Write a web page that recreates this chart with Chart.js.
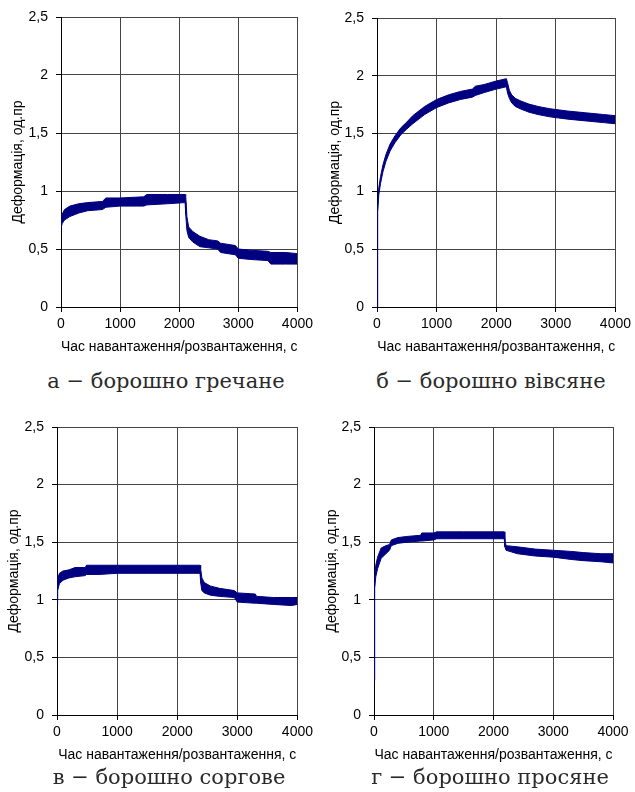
<!DOCTYPE html>
<html>
<head>
<meta charset="utf-8">
<script src="https://cdn.jsdelivr.net/npm/chart.js@4/dist/chart.umd.min.js"></script>
<style>
  body { margin: 0; background: #fff; }
  #page { position: relative; width: 635px; height: 792px; background: #fff; overflow: hidden; }
  canvas { position: absolute; }
  .caption { position: absolute; transform: translate(-50%, -50%); white-space: nowrap;
             font-family: "DejaVu Serif", "Liberation Serif", serif; font-size: 21px; color: #2a2a2a; }
</style>
</head>
<body>
<div id="page"></div>
<script>
// Шкали (спільні для всіх чотирьох графіків)
var xTicks = [0, 1000, 2000, 3000, 4000];
var yTicks = [0, 0.5, 1, 1.5, 2, 2.5];
var yTickLabels = ['0', '0,5', '1', '1,5', '2', '2,5'];
var xTitle = 'Час навантаження/розвантаження, с';
var yTitle = 'Деформація, од.пр';

// а - борошно гречане: межі смуги (верх/низ) по часу
var aTime  = [0, 20, 60, 150, 300, 450, 700, 760, 1000, 1400, 1450, 1800, 2100, 2110, 2130, 2160, 2230, 2350, 2500, 2650, 2700, 2950, 3000, 3200, 3500, 3550, 3800, 4000];
var aUpper = [0.74, 0.80, 0.84, 0.87, 0.89, 0.90, 0.91, 0.94, 0.94, 0.95, 0.97, 0.97, 0.97, 0.96, 0.78, 0.69, 0.65, 0.61, 0.58, 0.57, 0.55, 0.53, 0.50, 0.49, 0.48, 0.47, 0.47, 0.46];
var aLower = [0.68, 0.72, 0.75, 0.78, 0.81, 0.83, 0.84, 0.86, 0.87, 0.87, 0.88, 0.89, 0.90, 0.80, 0.66, 0.60, 0.56, 0.52, 0.51, 0.50, 0.47, 0.45, 0.42, 0.41, 0.40, 0.37, 0.37, 0.37];

// б - борошно вівсяне
var bTime  = [0, 5, 15, 30, 60, 100, 150, 220, 300, 400, 500, 600, 800, 1000, 1200, 1400, 1600, 1650, 1800, 2000, 2170, 2190, 2220, 2260, 2320, 2400, 2550, 2700, 2900, 3200, 3500, 3800, 4000];
var bUpper = [0, 0.57, 0.88, 1.03, 1.13, 1.23, 1.32, 1.41, 1.48, 1.55, 1.60, 1.655, 1.735, 1.795, 1.835, 1.865, 1.885, 1.91, 1.925, 1.955, 1.975, 1.94, 1.875, 1.835, 1.805, 1.785, 1.755, 1.735, 1.715, 1.695, 1.68, 1.665, 1.655];
var bLower = [0, 0.53, 0.82, 0.97, 1.07, 1.17, 1.26, 1.35, 1.42, 1.49, 1.54, 1.585, 1.665, 1.725, 1.765, 1.795, 1.815, 1.83, 1.855, 1.885, 1.905, 1.85, 1.805, 1.765, 1.735, 1.715, 1.685, 1.665, 1.645, 1.625, 1.61, 1.595, 1.585];

// в - борошно соргове
var cTime  = [0, 10, 40, 100, 200, 300, 470, 490, 700, 1000, 1500, 2000, 2380, 2390, 2410, 2450, 2550, 2700, 2950, 3000, 3300, 3320, 3600, 3900, 4000];
var cUpper = [1.00, 1.18, 1.23, 1.25, 1.26, 1.28, 1.28, 1.30, 1.30, 1.30, 1.30, 1.30, 1.30, 1.27, 1.19, 1.15, 1.12, 1.10, 1.08, 1.06, 1.05, 1.03, 1.02, 1.02, 1.02];
var cLower = [0.95, 1.08, 1.14, 1.17, 1.19, 1.20, 1.21, 1.22, 1.22, 1.23, 1.23, 1.23, 1.23, 1.15, 1.08, 1.06, 1.04, 1.03, 1.02, 0.98, 0.97, 0.97, 0.96, 0.95, 0.96];

// г - борошно просяне
var dTime  = [0, 5, 15, 30, 60, 120, 200, 260, 290, 400, 550, 780, 800, 1000, 1050, 1500, 2000, 2180, 2190, 2210, 2400, 2700, 3000, 3300, 3500, 3800, 4000];
var dUpper = [0.30, 0.95, 1.20, 1.30, 1.37, 1.45, 1.47, 1.48, 1.52, 1.54, 1.55, 1.56, 1.58, 1.58, 1.59, 1.59, 1.59, 1.59, 1.52, 1.47, 1.46, 1.44, 1.43, 1.42, 1.41, 1.40, 1.40];
var dLower = [0.30, 0.85, 1.10, 1.20, 1.27, 1.36, 1.40, 1.43, 1.47, 1.49, 1.50, 1.51, 1.51, 1.52, 1.53, 1.53, 1.53, 1.53, 1.46, 1.43, 1.40, 1.38, 1.37, 1.35, 1.34, 1.33, 1.32];

var captions = ['а − борошно гречане', 'б − борошно вівсяне', 'в − борошно соргове', 'г − борошно просяне'];

// розміщення панелей на сторінці (px)
var panels = [
    { left: 0,   top: 0,   w: 317, h: 360, plot: { l: 61,  r: 301, t: 17,  b: 307 }, yTitlePad: 10, capX: 166, capY: 381,
      time: aTime, upper: aUpper, lower: aLower },
    { left: 317, top: 0,   w: 318, h: 360, plot: { l: 377, r: 618, t: 18,  b: 307 }, yTitlePad: 10, capX: 491, capY: 381,
      time: bTime, upper: bUpper, lower: bLower },
    { left: 0,   top: 400, w: 317, h: 368, plot: { l: 57,  r: 298, t: 427, b: 715 }, yTitlePad: 6,  capX: 169, capY: 777,
      time: cTime, upper: cUpper, lower: cLower },
    { left: 317, top: 400, w: 318, h: 368, plot: { l: 374, r: 613, t: 427, b: 715 }, yTitlePad: 7,  capX: 490, capY: 777,
      time: dTime, upper: dUpper, lower: dLower }
];

var lineColor = '#000080';
var fontFamily = '"Liberation Sans", Arial, sans-serif';

function toPoints(xs, ys) {
    return xs.map(function(x, i) { return { x: x, y: ys[i] }; });
}

function drawPanel(p, caption) {
    var page = document.getElementById('page');
    var canvas = document.createElement('canvas');
    canvas.width = p.w;
    canvas.height = p.h;
    canvas.style.left = p.left + 'px';
    canvas.style.top = p.top + 'px';
    page.appendChild(canvas);

    var cap = document.createElement('div');
    cap.className = 'caption';
    cap.textContent = caption;
    cap.style.left = p.capX + 'px';
    cap.style.top = p.capY + 'px';
    page.appendChild(cap);

    var yWidth = p.plot.l - p.left;
    var xHeight = p.top + p.h - p.plot.b;

    return new Chart(canvas.getContext('2d'), {
        type: 'line',
        data: {
            datasets: [{
                data: toPoints(p.time, p.upper),
                borderColor: lineColor,
                backgroundColor: lineColor,
                borderWidth: 1,
                pointRadius: 0,
                tension: 0,
                fill: '+1'
            }, {
                data: toPoints(p.time, p.lower),
                borderColor: lineColor,
                borderWidth: 1,
                pointRadius: 0,
                tension: 0,
                fill: false
            }]
        },
        options: {
            responsive: false,
            animation: false,
            events: [],
            layout: {
                padding: { left: 0, top: p.plot.t - p.top, right: p.left + p.w - p.plot.r, bottom: 0 }
            },
            plugins: {
                legend: { display: false },
                tooltip: { enabled: false }
            },
            scales: {
                x: {
                    type: 'linear',
                    min: 0, max: 4000,
                    afterBuildTicks: function(s) { s.ticks = xTicks.map(function(v) { return { value: v }; }); },
                    afterFit: function(s) { s.height = xHeight; },
                    ticks: {
                        color: '#000', font: { family: fontFamily, size: 14 }, padding: 4, maxRotation: 0, autoSkip: false,
                        callback: function(v) { return String(v); }
                    },
                    grid: { color: '#444', lineWidth: 1, tickLength: 5, tickColor: '#000' },
                    border: { color: '#000', width: 1 },
                    title: { display: true, text: xTitle, color: '#000', font: { family: fontFamily, size: 14 }, padding: { top: 0, bottom: 4 } }
                },
                y: {
                    min: 0, max: 2.5,
                    afterBuildTicks: function(s) { s.ticks = yTicks.map(function(v) { return { value: v }; }); },
                    afterFit: function(s) { s.width = yWidth; },
                    ticks: {
                        color: '#000', font: { family: fontFamily, size: 14 }, padding: 8, autoSkip: false,
                        callback: function(v) { return yTickLabels[yTicks.indexOf(v)]; }
                    },
                    grid: { color: '#444', lineWidth: 1, tickLength: 5, tickColor: '#000' },
                    border: { color: '#000', width: 1 },
                    title: { display: true, text: yTitle, color: '#000', font: { family: fontFamily, size: 14 }, padding: { top: p.yTitlePad, bottom: 0 } }
                }
            }
        }
    });
}

panels.forEach(function(p, i) { drawPanel(p, captions[i]); });
</script>
</body>
</html>
